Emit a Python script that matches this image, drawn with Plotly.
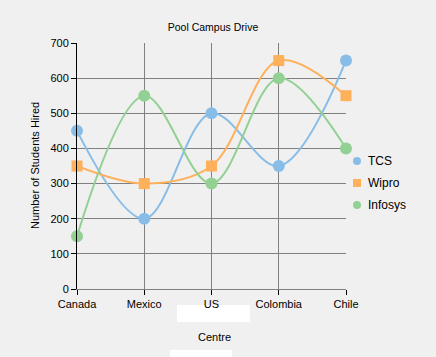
import plotly.graph_objects as go

categories = ["Canada", "Mexico", "US", "Colombia", "Chile"]
tcs = [450, 200, 500, 350, 650]
wipro = [350, 300, 350, 650, 550]
infosys = [150, 550, 300, 600, 400]
y_ticks = [0, 100, 200, 300, 400, 500, 600, 700]

W, H = 436, 357
L, R, T, B = 77, 346, 43, 289
FONT = "Liberation Sans, Arial, sans-serif"

def px(x):
    return (x - L) / (R - L)

def py(y):
    return (B - y) / (B - T)

series = [
    ("TCS", tcs, "#88BDE8", "circle", 12),
    ("Wipro", wipro, "#FFB05A", "square", 11),
    ("Infosys", infosys, "#93D093", "circle", 12),
]

xs = list(range(len(categories)))
fig = go.Figure()
for name, vals, col, sym, sz in series:
    fig.add_trace(go.Scatter(
        x=xs, y=vals, mode="lines+markers", name=name, showlegend=False,
        line=dict(color=col, width=2, shape="spline", smoothing=1),
        marker=dict(color=col, symbol=sym, size=sz),
        cliponaxis=False,
    ))

# manual legend (icons as shapes, labels as annotations)
shapes = [
    dict(type="rect", xref="paper", yref="paper", layer="below",
         x0=px(177), x1=px(250), y0=py(305), y1=py(322),
         fillcolor="#FFFFFF", line=dict(width=0)),
    dict(type="rect", xref="paper", yref="paper", layer="below",
         x0=px(170), x1=px(232), y0=py(350), y1=py(358),
         fillcolor="#FFFFFF", line=dict(width=0)),
]
annotations = [
    dict(text="Centre", xref="paper", yref="paper", x=px(214), y=py(337),
         xanchor="center", yanchor="middle", showarrow=False,
         font=dict(size=11, family=FONT)),
    dict(text="Number of Students Hired", xref="paper", yref="paper",
         x=px(35), y=py(166), textangle=-90, xanchor="center",
         yanchor="middle", showarrow=False, font=dict(size=11, family=FONT)),
]
leg_y0, leg_dy = 161, 22
for i, (name, vals, col, sym, sz) in enumerate(series):
    cy = leg_y0 + i * leg_dy
    cx = 357
    r = 4
    shapes.append(dict(
        type="circle" if sym == "circle" else "rect",
        xref="paper", yref="paper",
        x0=px(cx - r), x1=px(cx + r), y0=py(cy + r), y1=py(cy - r),
        fillcolor=col, line=dict(width=0)))
    annotations.append(dict(
        text=name, xref="paper", yref="paper", x=px(366), y=py(cy),
        xanchor="left", yanchor="middle", showarrow=False,
        font=dict(size=12, family=FONT)))

fig.update_layout(
    width=W, height=H, showlegend=False,
    margin=dict(l=L, r=W - R, t=T, b=H - B, pad=0),
    paper_bgcolor="#F0F0F0", plot_bgcolor="#F0F0F0",
    font=dict(family=FONT, size=11, color="#000000"),
    title=dict(text="Pool Campus Drive", x=(213) / W, xanchor="center",
               y=1 - 27 / H, yanchor="middle",
               font=dict(size=10.5, family=FONT, color="#000000")),
    xaxis=dict(
        range=[0, len(categories) - 1], tickvals=xs, ticktext=categories,
        showgrid=True, gridcolor="#808080", gridwidth=1,
        showline=True, linecolor="#808080", linewidth=1,
        ticks="outside", ticklen=5, tickcolor="#000000",
        tickfont=dict(size=11, family=FONT), zeroline=False,
    ),
    yaxis=dict(
        range=[0, 700], tickvals=y_ticks,
        showgrid=True, gridcolor="#808080", gridwidth=1,
        showline=True, linecolor="#000000", linewidth=1,
        ticks="outside", ticklen=5, tickcolor="#000000",
        tickfont=dict(size=11, family=FONT), zeroline=False,
    ),
    shapes=shapes,
    annotations=annotations,
)

fig.write_html(
    "out.html",
    config={"displayModeBar": False},
    post_script="document.body.style.margin='0';document.body.style.background='#F0F0F0';",
)
